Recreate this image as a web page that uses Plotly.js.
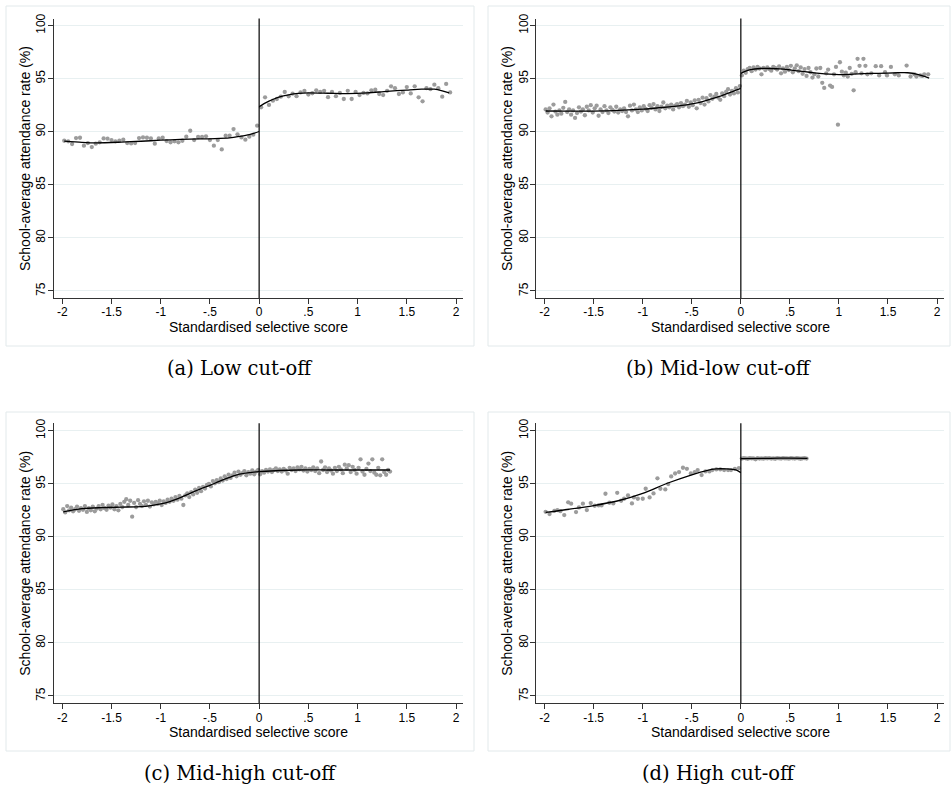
<!DOCTYPE html>
<html>
<head>
<meta charset="utf-8">
<script src="https://cdn.plot.ly/plotly-3.0.1.min.js"></script>
<style>html,body{margin:0;padding:0;background:#fff;}#chart{width:952px;height:790px;}</style>
</head>
<body>
<div id="chart"></div>
<script>
// ---------- tick labels ----------
const xTickVals = [-2, -1.5, -1, -0.5, 0, 0.5, 1, 1.5, 2];
const xTickText = ['-2', '-1.5', '-1', '-.5', '0', '.5', '1', '1.5', '2'];
const yTickVals = [75, 80, 85, 90, 95, 100];
const xTitle = 'Standardised selective score';
const yTitle = 'School-average attendance rate (%)';
const captions = ['(a) Low cut-off', '(b) Mid-low cut-off', '(c) Mid-high cut-off', '(d) High cut-off'];

// ---------- (a) Low cut-off ----------
const aLeftX = [-1.98,-1.94,-1.90,-1.86,-1.82,-1.78,-1.74,-1.70,-1.66,-1.62,
  -1.58,-1.54,-1.50,-1.46,-1.42,-1.38,-1.34,-1.30,-1.26,-1.22,
  -1.18,-1.14,-1.10,-1.06,-1.02,-0.98,-0.94,-0.90,-0.86,-0.82,
  -0.78,-0.74,-0.70,-0.66,-0.62,-0.58,-0.54,-0.50,-0.46,-0.42,
  -0.38,-0.34,-0.30,-0.26,-0.22,-0.18,-0.14,-0.10,-0.06,-0.02];
const aLeftY = [89.15,89.09,88.84,89.4,89.43,88.68,88.93,88.55,88.87,89.0,
  89.37,89.34,89.21,89.09,89.15,89.25,88.93,88.9,88.93,89.4,
  89.46,89.43,89.37,88.87,89.37,89.43,89.12,89.0,89.09,89.0,
  89.15,89.53,90.09,89.21,89.5,89.5,89.56,89.21,88.68,89.21,
  88.33,89.62,89.62,90.25,89.75,89.46,89.25,89.53,89.72,90.57];
const aRightX = [0.02,0.06,0.10,0.14,0.18,0.22,0.26,0.30,0.34,0.38,
  0.42,0.46,0.50,0.54,0.58,0.62,0.66,0.70,0.74,0.78,
  0.82,0.86,0.90,0.94,0.98,1.02,1.06,1.10,1.14,1.18,
  1.22,1.26,1.30,1.34,1.38,1.42,1.46,1.50,1.54,1.58,
  1.62,1.66,1.70,1.74,1.78,1.82,1.86,1.90,1.94];
const aRightY = [92.3,93.24,92.52,92.92,93.08,93.3,93.74,93.33,93.58,93.35,
  93.7,93.84,93.5,93.62,93.9,93.75,93.85,93.25,93.75,93.35,
  93.65,93.08,93.85,93.08,93.75,93.45,93.65,93.6,93.9,93.95,
  93.55,93.45,93.85,94.27,94.1,93.55,93.7,94.2,93.6,94.27,
  93.24,92.86,94.1,94.0,94.43,94.1,93.3,94.5,93.7];
const aFitLeftX = [-1.98,-1.8,-1.65,-1.4,-1.2,-1.0,-0.8,-0.6,-0.45,-0.3,-0.2,-0.1,0];
const aFitLeftY = [89.12,89.0,88.95,89.02,89.1,89.2,89.27,89.32,89.35,89.42,89.55,89.72,90.02];
const aFitRightX = [0,0.05,0.1,0.15,0.2,0.3,0.4,0.5,0.7,0.9,1.1,1.3,1.5,1.65,1.78,1.86,1.93];
const aFitRightY = [92.35,92.65,92.88,93.08,93.25,93.47,93.6,93.65,93.62,93.58,93.65,93.8,93.92,94.0,94.0,93.85,93.65];

// ---------- shared left-side bin positions for (b) and (c) ----------
const leftBinX = [-1.99,-1.97,-1.95,-1.93,-1.91,-1.89,-1.87,-1.85,-1.83,-1.81,
  -1.79,-1.77,-1.75,-1.73,-1.71,-1.69,-1.67,-1.65,-1.63,-1.61,
  -1.59,-1.57,-1.55,-1.53,-1.51,-1.49,-1.47,-1.45,-1.43,-1.41,
  -1.39,-1.37,-1.35,-1.33,-1.31,-1.29,-1.27,-1.25,-1.23,-1.21,
  -1.19,-1.17,-1.15,-1.13,-1.11,-1.09,-1.07,-1.05,-1.03,-1.01,
  -0.99,-0.97,-0.95,-0.93,-0.91,-0.89,-0.87,-0.85,-0.83,-0.81,
  -0.79,-0.77,-0.75,-0.73,-0.71,-0.69,-0.67,-0.65,-0.63,-0.61,
  -0.59,-0.57,-0.55,-0.53,-0.51,-0.49,-0.47,-0.45,-0.43,-0.41,
  -0.39,-0.37,-0.35,-0.33,-0.31,-0.29,-0.27,-0.25,-0.23,-0.21,
  -0.19,-0.17,-0.15,-0.13,-0.11,-0.09,-0.07,-0.05,-0.03,-0.01];

// ---------- (b) Mid-low cut-off ----------
const bLeftY = [92.1,91.8,92.2,91.45,92.55,91.9,91.6,92.0,91.7,92.25,
  92.8,91.85,92.1,91.6,92.0,91.3,91.75,92.3,91.9,92.1,
  91.55,92.35,92.0,92.5,91.8,92.2,92.45,91.5,92.1,91.85,
  92.4,92.0,91.75,92.3,92.05,91.9,92.35,91.8,92.1,91.95,
  92.2,91.85,91.45,92.45,92.0,92.55,92.1,91.85,92.3,92.0,
  92.4,92.15,91.95,92.5,92.25,92.6,92.1,92.4,91.95,92.35,
  92.75,92.2,92.45,92.3,92.55,92.1,92.45,92.6,92.3,92.7,
  92.4,92.55,92.9,92.35,92.75,92.5,92.95,92.2,93.0,92.7,
  93.2,92.55,93.15,92.85,93.45,93.1,93.3,93.55,93.2,93.0,
  93.6,93.35,93.75,94.0,93.5,93.85,93.6,94.1,93.7,94.3];
const bRightX = [0.01,0.03,0.05,0.07,0.09,0.11,0.13,0.15,0.17,0.19,
  0.21,0.23,0.25,0.27,0.29,0.31,0.33,0.35,0.37,0.39,
  0.41,0.43,0.45,0.47,0.49,0.51,0.53,0.55,0.57,0.59,
  0.61,0.63,0.65,0.67,0.69,0.71,0.73,0.75,0.77,0.79,
  0.81,0.83,0.85,0.87,0.89,0.91,0.93,0.95,0.97,0.99,
  1.01,1.03,1.05,1.07,1.09,1.11,1.13,1.15,1.17,1.19,
  1.21,1.23,1.25,1.27,1.29,1.33,1.375,1.41,1.43,1.47,
  1.49,1.53,1.57,1.61,1.69,1.73,1.77,1.79,1.83,1.85,
  1.87,1.91];
const bRightY = [95.3,95.75,95.55,95.9,96.0,95.7,96.05,95.85,96.1,95.95,
  95.4,96.0,95.8,96.05,95.9,95.75,96.1,96.0,95.85,96.15,
  95.5,95.95,95.65,96.1,95.8,96.2,95.6,95.95,96.25,95.7,
  96.05,95.45,95.9,95.25,96.0,95.6,95.1,95.4,95.95,95.2,
  96.0,94.6,94.12,95.5,95.85,94.34,94.22,95.4,96.1,90.66,
  96.54,95.65,95.3,95.55,95.2,96.0,95.45,93.9,95.6,96.86,
  96.2,95.5,96.86,96.2,95.4,95.5,96.17,95.3,96.17,95.6,
  95.3,96.1,95.4,95.3,96.23,95.2,95.4,95.2,95.3,95.25,
  95.4,95.4];
const bFitLeftX = [-1.99,-1.6,-1.3,-1.0,-0.8,-0.6,-0.5,-0.4,-0.3,-0.2,-0.1,0];
const bFitLeftY = [91.95,91.93,91.98,92.12,92.28,92.48,92.63,92.82,93.08,93.38,93.72,94.08];
const bFitRightX = [0,0.05,0.1,0.2,0.3,0.4,0.5,0.6,0.7,0.8,0.9,1.0,1.1,1.2,1.4,1.6,1.7,1.8,1.92];
const bFitRightY = [95.5,95.7,95.85,95.95,95.95,95.92,95.82,95.7,95.6,95.5,95.42,95.38,95.4,95.45,95.5,95.55,95.55,95.4,95.05];

// ---------- (c) Mid-high cut-off ----------
const cLeftY = [92.6,92.3,92.9,92.5,92.75,92.4,92.6,92.85,92.45,92.7,
  92.55,92.9,92.35,92.7,92.5,92.85,92.4,92.65,92.9,92.6,
  93.0,92.7,92.55,92.95,92.75,93.05,92.6,92.9,92.5,93.1,
  92.8,93.3,93.55,93.0,93.4,91.9,93.2,92.8,93.45,93.1,
  92.9,93.35,93.0,93.4,92.85,93.25,93.05,93.3,93.1,93.4,
  93.0,93.35,93.2,93.5,93.3,93.6,93.4,93.75,93.5,93.85,
  93.6,93.0,93.9,94.1,93.75,94.2,94.0,94.45,94.15,94.6,
  94.3,94.7,94.55,94.9,95.0,94.75,95.25,95.05,95.35,95.15,
  95.5,95.3,95.7,95.45,95.85,95.55,95.8,96.05,95.7,96.15,
  95.85,96.0,96.2,95.8,96.1,95.95,96.25,95.9,96.15,96.3];
const cRightX = [0.01,0.03,0.05,0.07,0.09,0.11,0.13,0.15,0.17,0.19,
  0.21,0.23,0.25,0.27,0.29,0.31,0.33,0.35,0.37,0.39,
  0.41,0.43,0.45,0.47,0.49,0.51,0.53,0.55,0.57,0.59,
  0.61,0.63,0.65,0.67,0.69,0.71,0.73,0.75,0.77,0.79,
  0.81,0.83,0.85,0.87,0.89,0.91,0.93,0.95,0.97,0.99,
  1.01,1.03,1.05,1.07,1.09,1.11,1.13,1.15,1.17,1.19,
  1.21,1.23,1.25,1.27,1.29,1.31,1.33];
const cRightY = [95.9,96.2,96.05,96.3,96.15,96.35,96.1,96.3,96.45,96.2,
  96.35,96.15,96.4,96.25,95.95,96.5,96.3,96.45,96.2,96.55,
  96.35,96.6,96.25,96.45,96.15,96.4,96.3,96.55,96.2,96.45,
  96.0,97.1,96.3,96.55,96.1,96.45,96.25,95.95,96.5,96.2,
  96.6,96.35,96.0,96.8,96.45,96.75,96.1,96.6,96.3,95.95,
  96.5,97.3,96.15,95.85,96.4,96.9,96.2,97.3,96.05,95.85,
  96.5,95.8,97.3,96.1,95.85,96.3,96.15];
const cFitLeftX = [-1.99,-1.8,-1.6,-1.4,-1.2,-1.1,-1.0,-0.9,-0.8,-0.7,-0.6,-0.5,-0.4,-0.3,-0.2,-0.1,0];
const cFitLeftY = [92.35,92.65,92.75,92.8,92.85,92.95,93.1,93.35,93.7,94.1,94.5,94.85,95.25,95.6,95.9,96.05,96.15];
const cFitRightX = [0,0.2,0.4,0.7,1.0,1.33];
const cFitRightY = [96.15,96.25,96.3,96.3,96.3,96.3];

// ---------- (d) High cut-off ----------
const dLeftX = [-1.99,-1.95,-1.90,-1.87,-1.84,-1.80,-1.76,-1.73,-1.68,-1.65,
  -1.61,-1.57,-1.53,-1.49,-1.45,-1.42,-1.38,-1.34,-1.30,-1.26,
  -1.22,-1.19,-1.15,-1.11,-1.09,-1.05,-1.00,-0.97,-0.93,-0.89,
  -0.85,-0.82,-0.77,-0.74,-0.71,-0.67,-0.63,-0.59,-0.55,-0.51,
  -0.47,-0.44,-0.40,-0.36,-0.32,-0.29,-0.25,-0.21,-0.17,-0.13,
  -0.10,-0.06,-0.02];
const dLeftY = [92.36,92.14,92.45,92.52,92.42,92.05,93.25,93.12,92.33,92.77,
  93.12,92.52,93.18,92.93,92.96,92.96,94.06,93.21,93.15,94.15,
  93.4,93.59,93.9,93.15,93.71,93.59,93.59,94.53,93.71,94.09,
  95.51,94.53,94.47,94.97,95.69,95.97,96.1,96.51,96.41,95.97,
  96.1,96.29,95.82,96.16,96.16,96.29,96.35,96.35,96.29,96.29,
  96.29,96.41,96.47];
const dRightX = [0.01,0.03,0.05,0.07,0.09,0.11,0.13,0.15,0.17,0.19,
  0.21,0.23,0.25,0.27,0.29,0.31,0.33,0.35,0.37,0.39,
  0.41,0.43,0.45,0.47,0.49,0.51,0.53,0.55,0.57,0.59,
  0.61,0.63,0.65,0.67];
const dRightY = [97.38,97.42,97.4,97.36,97.41,97.39,97.4,97.3,97.42,97.38,
  97.4,97.37,97.41,97.39,97.42,97.38,97.4,97.36,97.41,97.4,
  97.38,97.42,97.39,97.4,97.37,97.41,97.4,97.38,97.42,97.39,
  97.36,97.4,97.41,97.38];
const dFitLeftX = [-1.99,-1.75,-1.5,-1.25,-1.0,-0.75,-0.5,-0.35,-0.25,-0.15,-0.05,0];
const dFitLeftY = [92.3,92.6,92.95,93.4,94.1,95.05,95.85,96.25,96.4,96.4,96.3,96.05];
const dFitRightX = [0,0.3,0.5,0.68];
const dFitRightY = [97.38,97.4,97.42,97.4];

// ---------- build ----------
const dotStyle = {color: '#9c9c9c', size: 4.3};
const fitStyle = {color: '#000000', width: 1.3, shape: 'spline', smoothing: 0.8};

function pts(x, y, ax) {
  return {type: 'scatter', mode: 'markers', x: x, y: y, xaxis: 'x' + ax, yaxis: 'y' + ax,
          marker: dotStyle, hoverinfo: 'skip'};
}
function fit(x, y, ax) {
  return {type: 'scatter', mode: 'lines', x: x, y: y, xaxis: 'x' + ax, yaxis: 'y' + ax,
          line: fitStyle, hoverinfo: 'skip'};
}

const data = [
  pts(aLeftX, aLeftY, ''), pts(aRightX, aRightY, ''), fit(aFitLeftX, aFitLeftY, ''), fit(aFitRightX, aFitRightY, ''),
  pts(leftBinX, bLeftY, '2'), pts(bRightX, bRightY, '2'), fit(bFitLeftX, bFitLeftY, '2'), fit(bFitRightX, bFitRightY, '2'),
  pts(leftBinX, cLeftY, '3'), pts(cRightX, cRightY, '3'), fit(cFitLeftX, cFitLeftY, '3'), fit(cFitRightX, cFitRightY, '3'),
  pts(dLeftX, dLeftY, '4'), pts(dRightX, dRightY, '4'), fit(dFitLeftX, dFitLeftY, '4'), fit(dFitRightX, dFitRightY, '4')
];

const W = 952, H = 790;
const axisColor = '#333333';
function xa(d, range, anchor) {
  return {domain: d, range: range, anchor: anchor, tickmode: 'array', tickvals: xTickVals, ticktext: xTickText,
    ticks: 'outside', ticklen: 5, tickwidth: 1, tickcolor: axisColor, showline: true, linecolor: axisColor,
    linewidth: 1, showgrid: false, zeroline: false, tickfont: {size: 12, color: '#000'}, ticklabelstandoff: -2,
    automargin: false, fixedrange: true};
}
function ya(d, range, anchor) {
  return {domain: d, range: range, anchor: anchor, tickmode: 'array', tickvals: yTickVals,
    ticks: 'outside', ticklen: 5, tickwidth: 1, tickcolor: axisColor, showline: true, linecolor: axisColor,
    linewidth: 1, showgrid: true, gridcolor: '#e8f0f1', gridwidth: 1, zeroline: false, tickangle: -90,
    tickfont: {size: 12, color: '#000'}, ticklabelstandoff: -2, automargin: false, fixedrange: true};
}
const xL = [54 / W, 463.3 / W], xR = [536.3 / W, 944 / W];
const yT = [1 - 298 / H, 1 - 18.5 / H], yB = [1 - 703.3 / H, 1 - 423.3 / H];
const rxL = [-2.084, 2.074], rxR = [-2.085, 2.071];
const ryT = [74.34, 100.66], ryB = [74.31, 100.70];

function frame(x0, y0, x1, y1) {
  return {type: 'rect', xref: 'paper', yref: 'paper', x0: x0 / W, x1: x1 / W, y0: 1 - y1 / H, y1: 1 - y0 / H,
          line: {color: '#e2e9eb', width: 1}, fillcolor: 'rgba(0,0,0,0)', layer: 'below'};
}
function cut(ax) {
  return {type: 'line', xref: 'x' + ax, yref: 'y' + ax + ' domain', x0: 0, x1: 0, y0: 0, y1: 1,
          line: {color: '#000', width: 1.2}, layer: 'above'};
}
function cap(text, cx, cy) {
  return {text: text, xref: 'paper', yref: 'paper', x: cx / W, y: 1 - cy / H, xanchor: 'center', yanchor: 'middle',
          showarrow: false, font: {family: 'DejaVu Serif, serif', size: 19.5, color: '#000'}};
}
function xt(cx, cy) {
  return {text: xTitle, xref: 'paper', yref: 'paper', x: cx / W, y: 1 - cy / H, xanchor: 'center', yanchor: 'middle',
          showarrow: false, font: {size: 14, color: '#000'}};
}
function yt(cx, cy) {
  return {text: yTitle, xref: 'paper', yref: 'paper', x: cx / W, y: 1 - cy / H, xanchor: 'center', yanchor: 'middle',
          textangle: -90, showarrow: false, font: {size: 14, color: '#000'}};
}

const layout = {
  width: W, height: H, margin: {l: 0, r: 0, t: 0, b: 0}, paper_bgcolor: '#fff', plot_bgcolor: '#fff',
  showlegend: false, font: {family: 'Liberation Sans, Arial, sans-serif', color: '#000'},
  xaxis: xa(xL, rxL, 'y'), yaxis: ya(yT, ryT, 'x'),
  xaxis2: xa(xR, rxR, 'y2'), yaxis2: ya(yT, ryT, 'x2'),
  xaxis3: xa(xL, rxL, 'y3'), yaxis3: ya(yB, ryB, 'x3'),
  xaxis4: xa(xR, rxR, 'y4'), yaxis4: ya(yB, ryB, 'x4'),
  shapes: [frame(6, 6, 474, 346), frame(488, 6, 950, 346), frame(6, 412, 474, 751), frame(488, 412, 950, 751),
           cut(''), cut('2'), cut('3'), cut('4')],
  annotations: [
    cap(captions[0], 240, 368), cap(captions[1], 719, 368), cap(captions[2], 240, 773), cap(captions[3], 719, 773),
    xt(258.6, 326.5), xt(740, 326.5), xt(258.6, 731.5), xt(740, 731.5),
    yt(25.5, 158.5), yt(507.5, 158.5), yt(25.5, 563.3), yt(507.5, 563.3)
  ]
};

Plotly.newPlot('chart', data, layout, {staticPlot: true, displayModeBar: false});
</script>
</body>
</html>
